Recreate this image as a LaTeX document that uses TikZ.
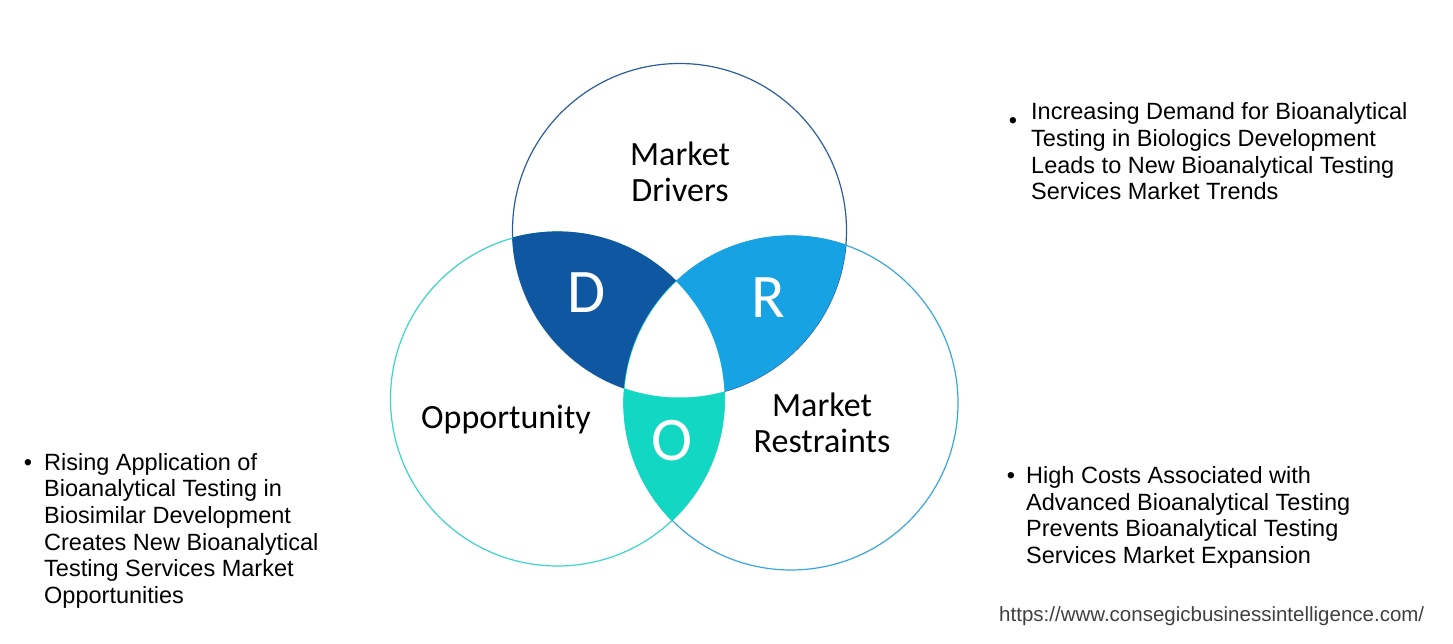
\documentclass[tikz,border=0pt]{standalone}
\usepackage{fontspec}
\setmainfont{Liberation Sans}
\newfontfamily\calibri{Carlito}
\definecolor{dcol}{HTML}{0F57A1}
\definecolor{rcol}{HTML}{17A2E3}
\definecolor{ocol}{HTML}{12D8C3}
\definecolor{topc}{HTML}{2B5D9C}
\definecolor{leftc}{HTML}{3CD5C9}
\definecolor{rightc}{HTML}{3AA6DF}
\definecolor{urlc}{HTML}{404040}
\tikzset{
    ring/.style={line width=1.2pt}, % 圆周
    lobe/.style={font=\calibri\fontsize{34}{36}\selectfont, align=center, inner sep=0pt}, % 圆内标题
    letter/.style={font=\calibri\fontsize{62}{62}\selectfont, text=white, inner sep=0pt}, % D R O
    point/.style={font=\fontsize{23.5}{26.7}\selectfont, align=left, anchor=base west, inner sep=0pt}, % 要点文字(末行基线)
    dotmark/.style={font=\fontsize{23.5}{26.7}\selectfont, inner sep=0pt} % 圆点
}
\begin{document}
\begin{tikzpicture}[x=1pt, y=1pt]
            \def\W{1453} \def\H{643} \def\r{167pt}
            \useasboundingbox (0,0) rectangle (\W,\H);

            \coordinate (T) at (679.5,412.5);
            \coordinate (L) at (557.5,244);
            \coordinate (R) at (791,240);

            \foreach \c/\col in {T/topc, L/leftc, R/rightc} {\draw[ring, \col] (\c) circle[radius=\r];}

            \begin{scope} \clip (T) circle[radius=\r]; \filldraw[dcol, ring] (L) circle[radius=\r]; \end{scope}
            \begin{scope} \clip (T) circle[radius=\r]; \filldraw[rcol, ring] (R) circle[radius=\r]; \end{scope}
            \begin{scope} \clip (L) circle[radius=\r]; \filldraw[ocol, ring] (R) circle[radius=\r]; \end{scope}
            \begin{scope} \clip (T) circle[radius=\r]; \clip (L) circle[radius=\r]; \fill[white] (R) circle[radius=\r]; \end{scope}

            \node[lobe] (drivers) at (680,471) {Market\\Drivers};
            \node[lobe] (opport) at (506,223) {Opportunity};
            \node[lobe] (restr) at (822,220) {Market\\Restraints};
            \node[letter] (dl) at (587,350) {D};
            \node[letter] (rl) at (768,345) {R};
            \node[letter] (ol) at (672,202) {O};

            \node[dotmark] (b1) at (1013,520) {\textbullet};
            \node[point] (trend) at (1031,443) {Increasing Demand for Bioanalytical\\Testing in Biologics Development\\Leads to New Bioanalytical Testing\\Services Market Trends};
            \node[dotmark] (b2) at (28,178) {\textbullet};
            \node[point] (opp) at (44,39.5) {Rising Application of\\Bioanalytical Testing in\\Biosimilar Development\\Creates New Bioanalytical\\Testing Services Market\\Opportunities};
            \node[dotmark] (b3) at (1011,165) {\textbullet};
            \node[point] (res) at (1026,79.5) {High Costs Associated with\\Advanced Bioanalytical Testing\\Prevents Bioanalytical Testing\\Services Market Expansion};

            \node[font=\fontsize{20.5}{24}\selectfont, text=urlc, anchor=base west, inner sep=0pt] (url) at (999,22) {https://www.consegicbusinessintelligence.com/};
        \end{tikzpicture}
\end{document}
